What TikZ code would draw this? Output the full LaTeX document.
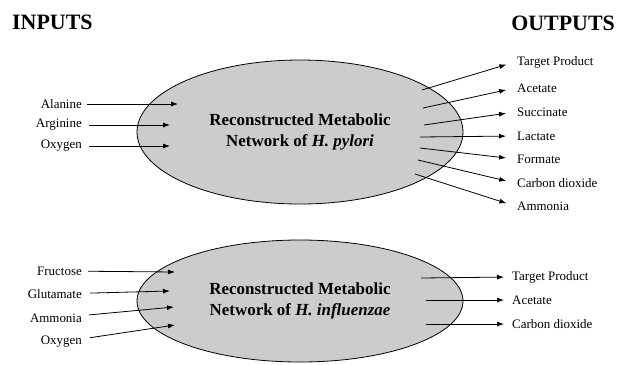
\documentclass[tikz,border=0pt]{standalone}
\usepackage{fontspec}
\setmainfont{Liberation Serif}
\usetikzlibrary{shapes.geometric,arrows.meta}

\begin{document}
\begin{tikzpicture}[x=1bp,y=-1bp,every text node part/.style={align=center},
  heading/.style={font=\fontsize{22}{26}\selectfont\bfseries, inner sep=0pt},
  network/.style={ellipse, draw, line width=0.8bp, fill=black!20, inner sep=0pt, font=\fontsize{17}{21}\selectfont\bfseries},
  metabolite/.style={font=\fontsize{13}{15}\selectfont, inner sep=2bp},
  flux/.style={-{Latex[length=7bp,width=5bp]}, line width=0.8bp}]
\useasboundingbox (0,0) rectangle (617,364);

\node [heading, anchor=west] (inputs) at (12,22) {INPUTS};
\node [heading, anchor=east] (outputs) at (615,23) {OUTPUTS};

% H. pylori
\node [network, minimum width=326bp, minimum height=144bp] (pylori) at (300,132) {Reconstructed Metabolic\\Network of \textit{H. pylori}};
\node [metabolite, anchor=east] (ala) at (84,104) {Alanine};
\node [metabolite, anchor=east] (arg) at (84,125) {Arginine};
\node [metabolite, anchor=east] (oxy) at (84,146) {Oxygen};
\coordinate (ala in) at (178,104);
\coordinate (arg in) at (170,125);
\coordinate (oxy in) at (170,146);
\draw [flux, shorten <=3bp] (ala) -- (ala in);
\draw [flux, shorten <=5bp] (arg) -- (arg in);
\draw [flux, shorten <=5bp] (oxy) -- (oxy in);

\node [metabolite, anchor=west] (target) at (515,62) {Target Product};
\node [metabolite, anchor=west] (ace) at (515,88) {Acetate};
\node [metabolite, anchor=west] (suc) at (515,112) {Succinate};
\node [metabolite, anchor=west] (lac) at (515,136) {Lactate};
\node [metabolite, anchor=west] (for) at (515,159) {Formate};
\node [metabolite, anchor=west] (co2) at (515,183) {Carbon dioxide};
\node [metabolite, anchor=west] (nh3) at (515,206) {Ammonia};
\coordinate (target out) at (422,90);
\coordinate (ace out) at (423,108);
\coordinate (suc out) at (424,125);
\coordinate (lac out) at (420,137);
\coordinate (for out) at (420,148);
\coordinate (co2 out) at (418,160);
\coordinate (nh3 out) at (415,174);
\draw [flux, shorten >=9bp] (target out) -- (target.west);
\draw [flux, shorten >=9bp] (ace out) -- (ace.west);
\draw [flux, shorten >=9bp] (suc out) -- (suc.west);
\draw [flux, shorten >=9bp] (lac out) -- (lac.west);
\draw [flux, shorten >=9bp] (for out) -- (for.west);
\draw [flux, shorten >=9bp] (co2 out) -- (co2.west);
\draw [flux, shorten >=9bp] (nh3 out) -- (nh3.west);

% H. influenzae
\node [network, minimum width=326bp, minimum height=122bp] (influenzae) at (300,301) {Reconstructed Metabolic\\Network of \textit{H. influenzae}};
\node [metabolite, anchor=east] (fru) at (84,271) {Fructose};
\node [metabolite, anchor=east] (glu) at (84,294) {Glutamate};
\node [metabolite, anchor=east] (amm) at (84,318) {Ammonia};
\node [metabolite, anchor=east] (oxy2) at (84,342) {Oxygen};
\coordinate (fru in) at (175,272);
\coordinate (glu in) at (170,291);
\coordinate (amm in) at (174,307);
\coordinate (oxy2 in) at (175,325);
\draw [flux, shorten <=4bp] (fru) -- (fru in);
\draw [flux, shorten <=6bp] (glu) -- (glu in);
\draw [flux, shorten <=5bp] (amm) -- (amm in);
\draw [flux, shorten <=6bp] (oxy2) -- (oxy2 in);

\node [metabolite, anchor=west] (target2) at (510,277) {Target Product};
\node [metabolite, anchor=west] (ace2) at (510,300) {Acetate};
\node [metabolite, anchor=west] (co22) at (510,324) {Carbon dioxide};
\coordinate (target2 out) at (421,278);
\coordinate (ace2 out) at (426,300);
\coordinate (co22 out) at (426,324);
\draw [flux, shorten >=6bp] (target2 out) -- (target2.west);
\draw [flux, shorten >=6bp] (ace2 out) -- (ace2.west);
\draw [flux, shorten >=6bp] (co22 out) -- (co22.west);
\end{tikzpicture}
\end{document}
